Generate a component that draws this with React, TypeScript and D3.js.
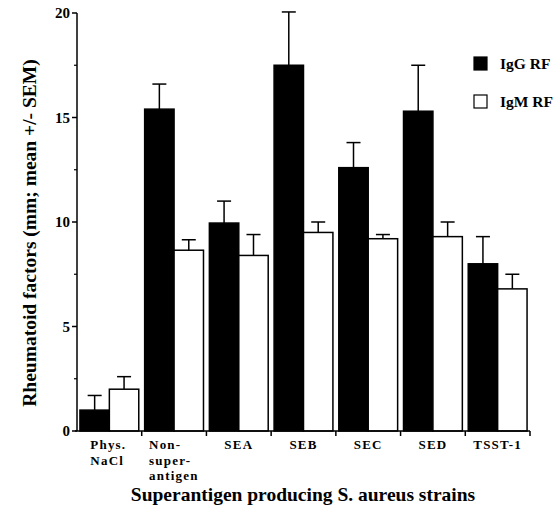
import * as d3 from 'd3';

const categories = ['Phys.|NaCl', 'Non-|super-|antigen', 'SEA', 'SEB', 'SEC', 'SED', 'TSST-1'];
const igg = [1.0, 15.4, 9.95, 17.5, 12.6, 15.3, 8.0];
const iggErr = [0.7, 1.2, 1.05, 2.55, 1.2, 2.2, 1.3];
const igm = [2.0, 8.65, 8.4, 9.5, 9.2, 9.3, 6.8];
const igmErr = [0.6, 0.5, 1.0, 0.5, 0.2, 0.7, 0.7];
const yTicks = [0, 5, 10, 15, 20];
const yMinor = [2.5, 7.5, 12.5, 17.5];
const series = [
    { name: 'IgG RF', values: igg, errs: iggErr, fill: '#000' },
    { name: 'IgM RF', values: igm, errs: igmErr, fill: '#fff' },
];

export default function App() {
    const width = 560;
    const height = 512;
    const margin = { t: 13, r: 30, b: 81, l: 77 };
    const font = '"Liberation Serif", "Times New Roman", serif';

    const x = d3.scaleBand()
        .domain(categories)
        .range([margin.l, width - margin.r])
        .paddingInner(0)
        .paddingOuter(0);

    const inner = d3.scaleBand()
        .domain(series.map(s => s.name))
        .range([0, x.bandwidth()])
        .paddingInner(0)
        .paddingOuter(0.1);

    const y = d3.scaleLinear()
        .domain([0, 20])
        .range([height - margin.b, margin.t]);

    const capW = 7;
    const y0 = y(0);

    return (
        <svg width={width} height={height} style={{ position: 'absolute', left: 0, top: 0, background: '#fff' }}>
            <g fontFamily={font} fontWeight="bold">
                {/* bars */}
                {categories.map((c, i) => (
                    <g key={c} transform={`translate(${x(c)},0)`}>
                        {series.map(s => {
                            const bx = inner(s.name)!;
                            const top = y(s.values[i]);
                            const cx = bx + inner.bandwidth() / 2;
                            const ey = y(s.values[i] + s.errs[i]);
                            return (
                                <g key={s.name}>
                                    <line x1={cx} x2={cx} y1={top} y2={ey} stroke="#000" strokeWidth={1.5} />
                                    <line x1={cx - capW} x2={cx + capW} y1={ey} y2={ey} stroke="#000" strokeWidth={1.5} />
                                    <rect x={bx} y={top} width={inner.bandwidth()} height={y0 - top}
                                        fill={s.fill} stroke="#000" strokeWidth={1.5} />
                                </g>
                            );
                        })}
                    </g>
                ))}

                {/* y axis */}
                <line x1={margin.l} x2={margin.l} y1={y(20)} y2={y0} stroke="#000" strokeWidth={1.5} />
                {yTicks.map(t => (
                    <g key={t}>
                        <line x1={margin.l - 5} x2={margin.l} y1={y(t)} y2={y(t)} stroke="#000" strokeWidth={1.5} />
                        <text x={margin.l - 7} y={y(t)} dy="0.35em" textAnchor="end" fontSize={15}>{t}</text>
                    </g>
                ))}
                {yMinor.map(t => (
                    <line key={t} x1={margin.l - 3} x2={margin.l} y1={y(t)} y2={y(t)} stroke="#000" strokeWidth={1.2} />
                ))}

                {/* x axis */}
                <line x1={margin.l - 2} x2={width - margin.r} y1={y0} y2={y0} stroke="#000" strokeWidth={1.5} />
                {categories.map(c => (
                    <line key={c} x1={x(c)! + x.bandwidth()} x2={x(c)! + x.bandwidth()} y1={y0} y2={y0 + 5}
                        stroke="#000" strokeWidth={1.5} />
                ))}
                {categories.map(c => {
                    const lines = c.split('|');
                    const mid = x(c)! + x.bandwidth() / 2;
                    const multi = lines.length > 1;
                    const left = mid - (lines.length === 3 ? 25 : 19);
                    return (
                        <text key={c} x={multi ? left : mid} y={y0 + 18} textAnchor={multi ? 'start' : 'middle'}
                            fontSize={13} letterSpacing={1.2}>
                            {lines.map((l, k) => (
                                <tspan key={k} x={multi ? left : mid} dy={k === 0 ? 0 : 15.5}>{l}</tspan>
                            ))}
                        </text>
                    );
                })}

                {/* titles */}
                <text x={303} y={501} textAnchor="middle" fontSize={19.5}>
                    Superantigen producing S. aureus strains
                </text>
                <text transform={`translate(36,233) rotate(-90)`} textAnchor="middle" fontSize={19.5}>
                    Rheumatoid factors (mm; mean +/- SEM)
                </text>

                {/* legend */}
                {series.map((s, i) => (
                    <g key={s.name} transform={`translate(474,${57 + i * 38})`}>
                        <rect x={0} y={0} width={13} height={13} fill={s.fill} stroke="#000" strokeWidth={1.2} />
                        <text x={26} y={12} fontSize={15.5}>{s.name}</text>
                    </g>
                ))}
            </g>
        </svg>
    );
}
